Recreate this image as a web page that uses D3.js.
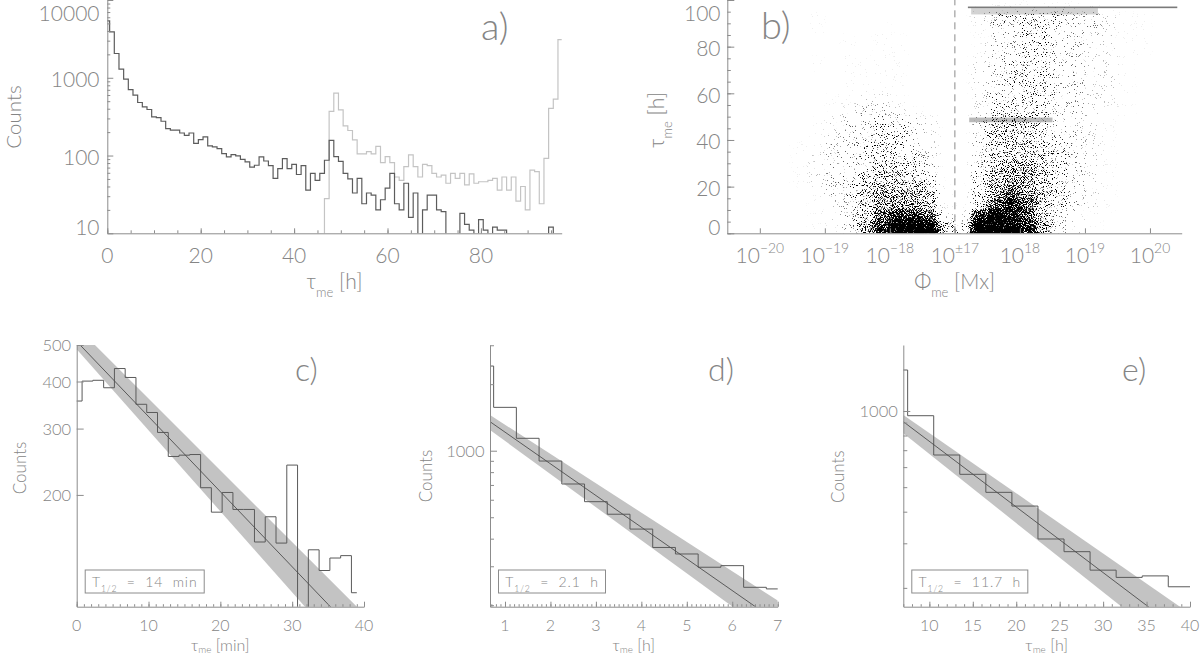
<!DOCTYPE html>
<html><head><meta charset="utf-8">
<script src="https://cdn.jsdelivr.net/npm/d3@7"></script>
<style>
body{margin:0;background:#fff;overflow:hidden;}
svg text{font-family:Lato,"Open Sans","DejaVu Sans",sans-serif;font-weight:300;fill:#858585;}
</style></head><body>
<svg id="chart" width="1200" height="655"></svg>
<script>
// ---------------- DATA ----------------
// panel a: histograms of lifetime (1 h bins centred on whole hours)
const aBinStart = -0.5, aBinWidth = 1, aBinEnd = 97.5;
const aDark = [5400,3900,2050,1290,960,706,597,481,423,391,314,308,276,222,212,212,195,182,195,143,
  160,174,133,129,123,106,96,103,99,89,83,71,75,96,85,74,51,68,91,68,77,57,74,36,59,48,59,87,157,97,
  84,59,50,33,51,24,33,31,20,27,38,59,24,20,44,16,33,5,20,31,31,20,19,5,5,5,18,13,11,5,
  15,11,5,12,11,11,5,5,5,5,5,5,5,5,5,12,5,5];
const aLightStart = 45.5;
const aLight = [1,28,369,635,387,241,210,159,105,105,112,105,131,81,97,81,53,48,72,102,
  72,53,77,74,59,53,56,44,59,51,59,42,58,44,46,46,48,51,36,53,36,53,26,40,20,65,62,24,92,405,530,3100];
const aXTicks = [0,20,40,60,80];
const aYTicks = [10,100,1000,10000];

// panel b: density of points (rows: tau 0-5,5-10,...; cols: signed log flux -3.5..3.5 step 0.25)
const bXTicks = [-3,-2,-1,0,1,2,3];
const bXTickExp = ["\u221220","\u221219","\u221218","\u00b117","18","19","20"];
const bYTicks = [0,20,40,60,80,100];
const bRowStep = 5, bColStep = 0.25, bColStart = -3.5;
const bDensity = [
  "0000011368999549998632100000",
  "0000012357887228987532100000",
  "0000012356665104787543210000",
  "0000013456665104676543210000",
  "0000123455554004666543210000",
  "0000123345543004566543210000",
  "0000123344443003555543210000",
  "0000113344432003555443210000",
  "0000012334432003555433210000",
  "0000012334432003555432210000",
  "0000001233210002444433211000",
  "0000001122100002444433221000",
  "0000000111100002344433221000",
  "0000000111100002344433221000",
  "0000010111100002344433221000",
  "0000000101100001334433221100",
  "0000000101100001334433221100",
  "0000010001000001334433321100",
  "0000010000000002444443321100",
  "0000000000000000111111100000"
];
const bRidgeTau0 = [96.5, 93.8, 47.6];
const bRidgeTau1 = [97.2, 96.5, 49.6];
const bRidgeU0 = [0.2, 0.25, 0.22];
const bRidgeU1 = [3.42, 2.2, 1.5];
const bRidgeLevel = [6, 3, 4];

// panel c
const cBinStart = -0.75, cBinWidth = 1.5, cBinEnd = 39;
const cValues = [355,401,403,385,433,410,348,331,293,253,255,256,209,180,203,183,183,150,175,149,240,80,143,126,136,138,110];
const cFit = [511, 15.1], cBandHi = [559, 15.8], cBandLo = [487, 14.0];
const cXTicks = [0,10,20,30,40], cYTicks = [200,300,400,500];
const cLegend = "14\u00a0\u00a0min";
// panel d
const dBinStart = 0.25, dBinWidth = 0.5, dBinEnd = 7.25;
const dValues = [2416,1571,1138,898,707,588,516,442,365,341,297,302,241,237];
const dFit = [1688, 2.10], dBandHi = [1780, 2.27], dBandLo = [1563, 2.01];
const dXTicks = [1,2,3,4,5,6,7], dYTicks = [1000];
const dLegend = "2.1\u00a0\u00a0h";
// panel e
const eBinStart = 4.5, eBinWidth = 3, eBinEnd = 40.5;
const eValues = [1452,958,670,562,477,421,312,278,235,220,223,202];
const eFit = [1378, 11.61], eBandHi = [1415, 12.65], eBandLo = [1266, 11.04];
const eXTicks = [10,15,20,25,30,35,40], eYTicks = [1000];
const eLegend = "11.7\u00a0\u00a0h";

// ---------------- DRAWING ----------------
const AX = "#8c8c8c";
const svg = d3.select("#chart");
const defs = svg.append("defs");
// speckle filter: turns the smooth density into a dotted texture
const sp = defs.append("filter").attr("id","speck").attr("filterUnits","userSpaceOnUse")
  .attr("x",720).attr("y",-5).attr("width",470).attr("height",245).attr("color-interpolation-filters","sRGB");
sp.append("feGaussianBlur").attr("in","SourceGraphic").attr("stdDeviation",3).attr("result","dens");
sp.append("feTurbulence").attr("type","fractalNoise").attr("baseFrequency",0.9).attr("numOctaves",2).attr("seed",7).attr("result","noise");
sp.append("feColorMatrix").attr("in","noise").attr("type","matrix")
  .attr("values","0 0 0 0 0  0 0 0 0 0  0 0 0 0 0  1 0 0 0 0").attr("result","na");
sp.append("feComponentTransfer").attr("in","na").attr("result","ns")
  .append("feFuncA").attr("type","linear").attr("slope",2.2).attr("intercept",-0.6);
sp.append("feComposite").attr("in","dens").attr("in2","ns").attr("operator","arithmetic")
  .attr("k1",0).attr("k2",5.5).attr("k3",-5).attr("k4",0);
defs.append("filter").attr("id","blur2")
  .append("feGaussianBlur").attr("stdDeviation", 0.6);

function clip(id, x0, x1, y0, y1) {
  defs.append("clipPath").attr("id", id).append("rect")
    .attr("x", x0).attr("y", y0).attr("width", x1 - x0).attr("height", y1 - y0);
  return `url(#${id})`;
}
function styleAxis(s) { s.selectAll("path,line").attr("stroke", AX).attr("stroke-width", 1); s.selectAll("text").remove(); }
function xAxis(x, yPos, major, minor, majLen, minLen) {
  svg.append("g").attr("transform", `translate(0,${yPos})`)
    .call(d3.axisBottom(x).tickValues(major).tickSize(-majLen).tickSizeOuter(0).tickFormat(""))
    .call(styleAxis);
  if (minor) svg.append("g").attr("transform", `translate(0,${yPos})`)
    .call(d3.axisBottom(x).tickValues(minor).tickSize(-minLen).tickSizeOuter(0).tickFormat(""))
    .call(s => s.select(".domain").remove()).call(styleAxis);
}
function yAxis(y, xPos, major, minor, majLen, minLen) {
  svg.append("g").attr("transform", `translate(${xPos},0)`)
    .call(d3.axisLeft(y).tickValues(major).tickSize(-majLen).tickSizeOuter(0).tickFormat(""))
    .call(styleAxis);
  if (minor) svg.append("g").attr("transform", `translate(${xPos},0)`)
    .call(d3.axisLeft(y).tickValues(minor).tickSize(-minLen).tickSizeOuter(0).tickFormat(""))
    .call(s => s.select(".domain").remove()).call(styleAxis);
}
function rich(sel, parts, size, subShift) {
  let shift = 0;
  parts.forEach(([t, type]) => {
    let target = 0, fs = size;
    if (type === "sub") { target = size * (subShift || 0.38); fs = size * 0.62; }
    if (type === "sup") { target = -size * 0.48; fs = size * 0.66; }
    sel.append("tspan").attr("font-size", fs).attr("dy", target - shift).text(t);
    shift = target;
  });
  return sel;
}
function histPath(x, y, start, width, end, values) {
  const pts = values.map((v, i) => [start + i * width, v]);
  pts.push([end, values[values.length - 1]]);
  return d3.line().x(d => x(d[0])).y(d => y(d[1])).curve(d3.curveStepAfter)(pts);
}
function logMinor(lo, hi) {
  const out = [];
  for (let p = Math.floor(Math.log10(lo)); p <= Math.ceil(Math.log10(hi)); p++)
    for (let m = 2; m <= 9; m++) { const v = m * Math.pow(10, p); if (v >= lo && v <= hi) out.push(v); }
  return out;
}
function range(a, b, s) { const o = []; for (let v = a; v <= b + 1e-9; v += s) o.push(+v.toFixed(4)); return o; }

// ===== Panel a =====
{
  const x = d3.scaleLinear().domain([0, 97.3]).range([107.3, 561.7]);
  const y = d3.scaleLog().domain([10, 10000]).range([233.3, 0]);
  const g = svg.append("g").attr("clip-path", clip("ca", 107.3, 561.7, 0, 233.3));
  g.append("path").attr("d", histPath(x, y, aLightStart, aBinWidth, aBinEnd, aLight))
    .attr("fill", "none").attr("stroke", "#c4c4c4").attr("stroke-width", 1.2);
  g.append("path").attr("d", histPath(x, y, aBinStart, aBinWidth, aBinEnd, aDark))
    .attr("fill", "none").attr("stroke", "#5c5c5c").attr("stroke-width", 1.2);
  xAxis(x, 233.3, aXTicks, range(0, 95, 5), 5, 3);
  yAxis(y, 107.3, aYTicks, logMinor(10, 10000), 6, 3);
  aYTicks.forEach(v => svg.append("text").attr("x", 99.5).attr("y", Math.min(Math.max(y(v) + 1, 12), 226.5))
    .attr("text-anchor", "end").attr("dominant-baseline", "central").attr("font-size", 21).text(v));
  aXTicks.forEach(v => svg.append("text").attr("x", x(v)).attr("y", 263).attr("text-anchor", "middle").attr("font-size", 21).text(v));
  rich(svg.append("text").attr("x", 334.5).attr("y", 289).attr("text-anchor", "middle"), [["\u03c4"], ["me", "sub"], [" [h]"]], 21);
  svg.append("text").attr("transform", "translate(20.5,117) rotate(-90)").attr("text-anchor", "middle").attr("font-size", 20.5).text("Counts");
  svg.append("text").attr("x", 481).attr("y", 40).attr("font-size", 38).text("a)");
}

// ===== Panel b =====
{
  const x = d3.scaleLinear().domain([-3.5, 3.488]).range([727.3, 1181.7]);
  const y = d3.scaleLinear().domain([0, 100]).range([233.3, 0]);
  const outer = svg.append("g").attr("clip-path", clip("cb", 727.3, 1181.7, 0, 233.3));
  const g = outer.append("g").attr("filter", "url(#speck)");
  const op = L => Math.pow(L / 9, 2);
  bDensity.forEach((row, r) => {
    row.split("").forEach((ch, j) => {
      const L = +ch; if (!L) return;
      const u0 = bColStart + j * bColStep, t0 = r === 0 ? -bRowStep : r * bRowStep, t1 = (r + 1) * bRowStep;
      g.append("rect").attr("x", x(u0)).attr("width", x(u0 + bColStep) - x(u0))
        .attr("y", y(t1)).attr("height", y(t0) - y(t1)).attr("fill", "#000").attr("fill-opacity", op(L));
    });
  });
  const g2 = outer.append("g").attr("filter", "url(#blur2)");
  bRidgeTau0.forEach((t0, i) => {
    g2.append("rect").attr("x", x(bRidgeU0[i])).attr("width", x(bRidgeU1[i]) - x(bRidgeU0[i]))
      .attr("y", y(bRidgeTau1[i])).attr("height", y(t0) - y(bRidgeTau1[i]))
      .attr("fill", "#000").attr("fill-opacity", Math.pow(bRidgeLevel[i] / 9, 1.6));
  });
  svg.append("line").attr("x1", x(0)).attr("x2", x(0)).attr("y1", y(0)).attr("y2", y(100))
    .attr("stroke", "#8a8a8a").attr("stroke-dasharray", "7,5");
  xAxis(x, 233.3, bXTicks, null, 5, 0);
  yAxis(y, 727.3, bYTicks, range(0, 100, 5), 7, 3.5);
  bYTicks.forEach(v => svg.append("text").attr("x", 720.5).attr("y", Math.min(Math.max(y(v) + 1, 12), 226.7))
    .attr("text-anchor", "end").attr("dominant-baseline", "central").attr("font-size", 21).text(v));
  bXTicks.forEach((v, i) => rich(svg.append("text").attr("x", x(v)).attr("y", 263).attr("text-anchor", "middle"),
    [["10"], [bXTickExp[i], "sup"]], 21));
  rich(svg.append("text").attr("x", 954.5).attr("y", 289).attr("text-anchor", "middle"), [["\u03a6"], ["me", "sub"], [" [Mx]"]], 21);
  rich(svg.append("text").attr("transform", "translate(664,120) rotate(-90)").attr("text-anchor", "middle"),
    [["\u03c4"], ["me", "sub"], [" [h]"]], 21);
  svg.append("text").attr("x", 761).attr("y", 39).attr("font-size", 38).text("b)");
}

// ===== Panels c, d, e =====
function decayPanel(o) {
  const x = d3.scaleLinear().domain(o.xd).range(o.xr);
  const y = d3.scaleLog().domain(o.yd).range([606.7, 345]);
  const g = svg.append("g").attr("clip-path", clip(o.id, o.xr[0], o.xr[1], 345, 606.7));
  const f = (p, t) => p[0] * Math.pow(2, -t / p[1]);
  const t0 = o.xd[0], t1 = o.xd[1];
  const band = [[t0, f(o.hi, t0)], [t1, f(o.hi, t1)], [t1, f(o.lo, t1)], [t0, f(o.lo, t0)]];
  g.append("path").attr("d", "M" + band.map(d => [x(d[0]), y(d[1])].join(",")).join("L") + "Z").attr("fill", "#c3c3c3");
  g.append("path").attr("d", histPath(x, y, o.bs, o.bw, o.be, o.vals))
    .attr("fill", "none").attr("stroke", "#5a5a5a").attr("stroke-width", 1);
  g.append("line").attr("x1", x(t0)).attr("y1", y(f(o.fit, t0))).attr("x2", x(t1)).attr("y2", y(f(o.fit, t1)))
    .attr("stroke", "#4e4e4e").attr("stroke-width", 0.9);
  xAxis(x, 606.7, o.xt, o.xminor, 5, 2.5);
  yAxis(y, o.xr[0], o.yt, o.yminor, 7, 4);
  o.yt.forEach(v => svg.append("text").attr("x", o.xr[0] - 5.5).attr("y", y(v)).attr("text-anchor", "end")
    .attr("dominant-baseline", "central").attr("font-size", 16.5).text(v));
  o.xt.forEach(v => svg.append("text").attr("x", x(v)).attr("y", 630.5).attr("text-anchor", "middle").attr("font-size", 16).text(v));
  rich(svg.append("text").attr("x", (o.xr[0] + o.xr[1]) / 2).attr("y", 651).attr("text-anchor", "middle"),
    [["\u03c4"], ["me", "sub"], [" [" + o.unit + "]"]], 16, 0.15);
  svg.append("text").attr("transform", `translate(${o.cx},${o.cy}) rotate(-90)`).attr("text-anchor", "middle").attr("font-size", 17).text("Counts");
  svg.append("text").attr("x", o.lx).attr("y", 380.5).attr("font-size", 32).text(o.letter);
  // legend box
  const lg = svg.append("g");
  const tx = o.xr[0] + 15.2;
  const txt = rich(lg.append("text").attr("x", tx).attr("y", 587).attr("letter-spacing", 0.9),
    [["T"], ["1/2", "sub"], ["\u00a0\u00a0=\u00a0\u00a0" + o.legend]], 14);
  txt.attr("fill", "#7a7a7a");
  const w = txt.node().getComputedTextLength();
  lg.insert("rect", "text").attr("x", tx - 6.7).attr("y", 570).attr("width", w + 13.4).attr("height", 23)
    .attr("fill", "#fff").attr("stroke", "#8c8c8c").attr("stroke-width", 1);
}
decayPanel({ id: "cc", xd: [0, 40], xr: [76.7, 364], yd: [101, 500], vals: cValues, bs: cBinStart, bw: cBinWidth, be: cBinEnd,
  fit: cFit, hi: cBandHi, lo: cBandLo, xt: cXTicks, xminor: range(0, 40, 1), yt: cYTicks, yminor: null,
  unit: "min", cx: 25.5, cy: 468, lx: 295, letter: "c)", legend: cLegend });
decayPanel({ id: "cd", xd: [0.67, 7], xr: [490, 777.7], yd: [196.9, 3008], vals: dValues, bs: dBinStart, bw: dBinWidth, be: dBinEnd,
  fit: dFit, hi: dBandHi, lo: dBandLo, xt: dXTicks, xminor: range(0.7, 7, 0.1), yt: dYTicks, yminor: logMinor(197, 3008),
  unit: "h", cx: 432, cy: 476, lx: 708, letter: "d)", legend: dLegend });
decayPanel({ id: "ce", xd: [7, 40], xr: [903.3, 1190], yd: [168.5, 1823], vals: eValues, bs: eBinStart, bw: eBinWidth, be: eBinEnd,
  fit: eFit, hi: eBandHi, lo: eBandLo, xt: eXTicks, xminor: range(7, 40, 1), yt: eYTicks, yminor: logMinor(169, 1823),
  unit: "h", cx: 843.5, cy: 476.7, lx: 1122, letter: "e)", legend: eLegend });
</script></body></html>
